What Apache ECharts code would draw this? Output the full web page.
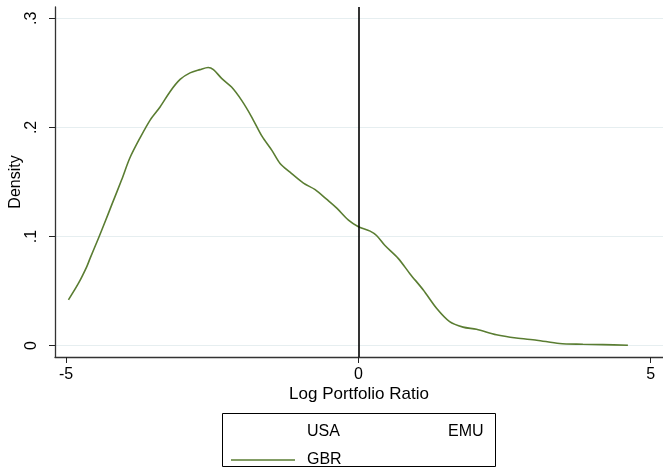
<!DOCTYPE html>
<html>
<head>
<meta charset="utf-8">
<style>
  html, body { margin: 0; padding: 0; background: #fff; }
  #chart { width: 663px; height: 469px; }
</style>
<script src="https://cdn.jsdelivr.net/npm/echarts@6/dist/echarts.min.js"></script>
</head>
<body>
<div id="chart"></div>
<script>
// Kernel density of the log portfolio ratio (GBR); USA and EMU share the legend.
const gbrX = [-4.96, -4.79, -4.65, -4.59, -4.45, -4.33, -4.22, -4.05, -3.91, -3.74, -3.56, -3.39, -3.22,
              -3.05, -2.88, -2.71, -2.57, -2.48, -2.34, -2.17, -2.00, -1.83, -1.65, -1.48, -1.34,
              -1.17, -0.94, -0.74, -0.54, -0.37, -0.17, 0.00, 0.20, 0.31, 0.45, 0.68, 0.88,
              1.11, 1.34, 1.56, 1.79, 2.02, 2.36, 2.70, 3.05, 3.44, 3.84, 4.18, 4.61];
const gbrDensity = [0.042, 0.057, 0.072, 0.080, 0.098, 0.114, 0.129, 0.152, 0.172, 0.190, 0.207, 0.219, 0.233,
                    0.244, 0.250, 0.253, 0.255, 0.253, 0.245, 0.237, 0.225, 0.210, 0.192, 0.179, 0.167,
                    0.159, 0.149, 0.143, 0.134, 0.126, 0.115, 0.109, 0.105, 0.101, 0.092, 0.080, 0.066,
                    0.051, 0.034, 0.022, 0.017, 0.015, 0.010, 0.007, 0.005, 0.002, 0.0013, 0.0009, 0.0004];
const seriesNames = ['USA', 'EMU', 'GBR'];
const xTicks = [-5, 0, 5];
const yTicks = [0, 0.1, 0.2, 0.3];
const refLineX = [0];

const FONT = '"Liberation Sans", Arial, Helvetica, sans-serif';
const gbrData = gbrX.map((x, i) => [x, gbrDensity[i]]);
const fmtY = v => (v === 0 ? '0' : String(v).replace(/^0\./, '.'));

const chart = echarts.init(document.getElementById('chart'), null, { renderer: 'canvas' });
chart.setOption({
  animation: false,
  backgroundColor: '#ffffff',
  textStyle: { fontFamily: FONT },
  grid: { left: 55, right: 0, top: 7, bottom: 112, outerBoundsMode: 'none', containLabel: false },
  xAxis: {
    type: 'value',
    min: -5.19,
    max: 5.21,
    name: 'Log Portfolio Ratio',
    nameLocation: 'middle',
    nameGap: 29,
    nameMoveOverlap: false,
    nameTextStyle: { color: '#000', fontSize: 17, fontFamily: FONT },
    axisLine: { show: true, onZero: false, lineStyle: { color: '#333', width: 1.3 } },
    axisTick: { show: true, length: 6, customValues: xTicks, lineStyle: { color: '#222', width: 1 } },
    axisLabel: { customValues: xTicks, margin: 10, color: '#000', fontSize: 16, fontFamily: FONT },
    splitLine: { show: false }
  },
  yAxis: {
    type: 'value',
    min: -0.0104,
    max: 0.3104,
    name: 'Density',
    nameLocation: 'middle',
    nameGap: 31,
    nameMoveOverlap: false,
    nameTextStyle: { color: '#000', fontSize: 16, fontFamily: FONT },
    axisLine: { show: true, onZero: false, lineStyle: { color: '#333', width: 1.3 } },
    axisTick: { show: true, length: 6, customValues: yTicks, lineStyle: { color: '#222', width: 1 } },
    axisLabel: { customValues: yTicks, rotate: 90, margin: 15, color: '#000', fontSize: 16,
                 fontFamily: FONT, formatter: fmtY },
    splitLine: { show: true, lineStyle: { color: '#e6eef0', width: 1.2 } }
  },
  legend: {
    data: seriesNames,
    left: 231,
    top: 423,
    width: 280,
    orient: 'horizontal',
    icon: 'rect',
    itemWidth: 64,
    itemHeight: 1.6,
    itemGap: 10,
    padding: 0,
    selectedMode: false,
    textStyle: { color: '#000', fontSize: 16, fontFamily: FONT, width: 55, lineHeight: 18,
                 padding: [0, 0, 0, 7], overflow: 'none' }
  },
  graphic: [{
    type: 'rect',
    silent: true,
    shape: { x: 222.5, y: 413.5, width: 273, height: 53 },
    style: { fill: 'none', stroke: '#000', lineWidth: 1 }
  }],
  series: [
    { name: 'USA', type: 'line', data: [], symbol: 'none', lineStyle: { color: '#ffffff', width: 1.5 }, itemStyle: { color: '#ffffff' } },
    { name: 'EMU', type: 'line', data: [], symbol: 'none', lineStyle: { color: '#ffffff', width: 1.5 }, itemStyle: { color: '#ffffff' } },
    {
      name: 'GBR', type: 'line', data: gbrData, symbol: 'none', smooth: 0.3,
      lineStyle: { color: '#5a7d32', width: 1.6 }, itemStyle: { color: '#5a7d32' },
      z: 3,
      markLine: {
        silent: true, symbol: 'none', animation: false,
        label: { show: false },
        lineStyle: { color: '#000', type: 'solid', width: 1.6 },
        data: refLineX.map(v => ({ xAxis: v }))
      }
    }
  ]
});
</script>
</body>
</html>
